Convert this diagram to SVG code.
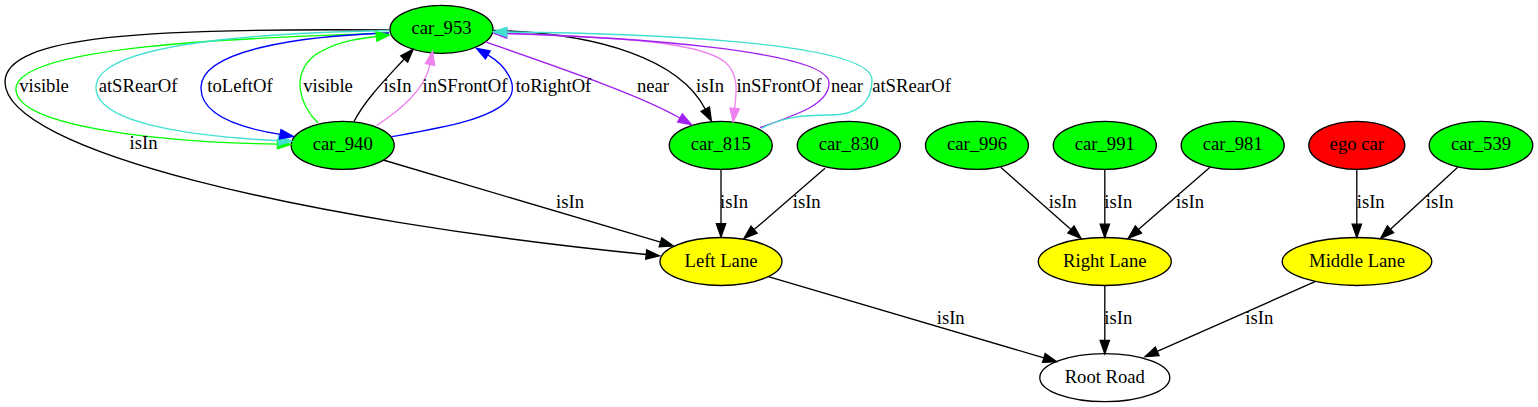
<svg xmlns="http://www.w3.org/2000/svg" width="1538" height="407" viewBox="0 0 1538 407">
<style>
.node ellipse{stroke:#000;stroke-width:1.33}
.g{fill:#00ff00}.y{fill:#ffff00}.r{fill:#ff0000}.w{fill:#ffffff}
text{font-family:"Liberation Serif","Times New Roman",serif;font-size:18.67px;fill:#000;text-anchor:middle}
.e path{fill:none;stroke-width:1.33}
.k{stroke:#000;marker-end:url(#ak)}
.gr{stroke:#00ff00;marker-end:url(#ag)}
.tq{stroke:#40e0d0;marker-end:url(#at)}
.bl{stroke:#0000ff;marker-end:url(#ab)}
.vi{stroke:#ee82ee;marker-end:url(#av)}
.pu{stroke:#a020f0;marker-end:url(#ap)}
</style>
<defs>
<marker id="ak" markerUnits="userSpaceOnUse" orient="auto" refX="0" refY="0" markerWidth="16" markerHeight="12" viewBox="-1 -6 16 12" overflow="visible"><path d="M0,-4.67L13.33,0L0,4.67Z" fill="#000" stroke="#000" stroke-width="1.33"/></marker>
<marker id="ag" markerUnits="userSpaceOnUse" orient="auto" refX="0" refY="0" markerWidth="16" markerHeight="12" viewBox="-1 -6 16 12" overflow="visible"><path d="M0,-4.67L13.33,0L0,4.67Z" fill="#00ff00" stroke="#00ff00" stroke-width="1.33"/></marker>
<marker id="at" markerUnits="userSpaceOnUse" orient="auto" refX="0" refY="0" markerWidth="16" markerHeight="12" viewBox="-1 -6 16 12" overflow="visible"><path d="M0,-4.67L13.33,0L0,4.67Z" fill="#40e0d0" stroke="#40e0d0" stroke-width="1.33"/></marker>
<marker id="ab" markerUnits="userSpaceOnUse" orient="auto" refX="0" refY="0" markerWidth="16" markerHeight="12" viewBox="-1 -6 16 12" overflow="visible"><path d="M0,-4.67L13.33,0L0,4.67Z" fill="#0000ff" stroke="#0000ff" stroke-width="1.33"/></marker>
<marker id="av" markerUnits="userSpaceOnUse" orient="auto" refX="0" refY="0" markerWidth="16" markerHeight="12" viewBox="-1 -6 16 12" overflow="visible"><path d="M0,-4.67L13.33,0L0,4.67Z" fill="#ee82ee" stroke="#ee82ee" stroke-width="1.33"/></marker>
<marker id="ap" markerUnits="userSpaceOnUse" orient="auto" refX="0" refY="0" markerWidth="16" markerHeight="12" viewBox="-1 -6 16 12" overflow="visible"><path d="M0,-4.67L13.33,0L0,4.67Z" fill="#a020f0" stroke="#a020f0" stroke-width="1.33"/></marker>
</defs>
<rect width="1538" height="407" fill="#fff"/>
<g id="nodes">
<g id="car_953" class="node"><ellipse class="g" cx="441.5" cy="29.3" rx="51.5" ry="24"/><text x="441.5" y="34.3">car_953</text></g>
<g id="car_940" class="node"><ellipse class="g" cx="342.7" cy="145.4" rx="51.5" ry="24"/><text x="342.7" y="150.4">car_940</text></g>
<g id="car_815" class="node"><ellipse class="g" cx="720.8" cy="145.4" rx="51.5" ry="24"/><text x="720.8" y="150.4">car_815</text></g>
<g id="car_830" class="node"><ellipse class="g" cx="848.8" cy="145.4" rx="51.5" ry="24"/><text x="848.8" y="150.4">car_830</text></g>
<g id="car_996" class="node"><ellipse class="g" cx="977" cy="145.4" rx="51.5" ry="24"/><text x="977" y="150.4">car_996</text></g>
<g id="car_991" class="node"><ellipse class="g" cx="1104.8" cy="145.4" rx="51.5" ry="24"/><text x="1104.8" y="150.4">car_991</text></g>
<g id="car_981" class="node"><ellipse class="g" cx="1232.7" cy="145.4" rx="51.5" ry="24"/><text x="1232.7" y="150.4">car_981</text></g>
<g id="ego_car" class="node"><ellipse class="r" cx="1356.8" cy="145.4" rx="48" ry="24"/><text x="1356.8" y="150.4">ego car</text></g>
<g id="car_539" class="node"><ellipse class="g" cx="1481" cy="145.4" rx="51.8" ry="24"/><text x="1481" y="150.4">car_539</text></g>
<g id="left_lane" class="node"><ellipse class="y" cx="721" cy="261.5" rx="61" ry="24"/><text x="721" y="266.5">Left Lane</text></g>
<g id="right_lane" class="node"><ellipse class="y" cx="1104.8" cy="261.5" rx="66.5" ry="24"/><text x="1104.8" y="266.5">Right Lane</text></g>
<g id="middle_lane" class="node"><ellipse class="y" cx="1357" cy="261.5" rx="74.8" ry="24"/><text x="1357" y="266.5">Middle Lane</text></g>
<g id="root_road" class="node"><ellipse class="w" cx="1104.8" cy="377.7" rx="65" ry="24"/><text x="1104.8" y="382.7">Root Road</text></g>
</g>
<g id="connectors" class="e">
<path class="k" d="M389,30 C150,28 5,35 5,82 C5,150 300,220 646.2,254.5"/>
<path class="gr" d="M389,33 C250,38 20,45 16,88 C13,125 150,142 277.4,144.2"/>
<path class="tq" d="M389,30.5 C250,33 97,45 96,87 C95,125 200,137 278.4,140.6"/>
<path class="bl" d="M389,33 C300,36 202,50 201,87 C200,115 240,128 280.2,134.3"/>
<path class="gr" d="M318,123 C300,105 290,75 315,55 C335,42 355,39 376.4,36.5"/>
<path class="k" d="M354,121.5 C365,100 385,80 404.2,59"/>
<path class="vi" d="M376.7,125.5 C400,110 425,90 430,64.4"/>
<path class="bl" d="M391.7,136.7 C440,128 490,120 508,100 C520,85 505,65 487.8,54.9"/>
<path class="pu" d="M485,41.7 C560,68 640,95 680,118"/>
<path class="k" d="M493.5,30.5 C600,33 680,60 705.3,109.2"/>
<path class="vi" d="M494,33 C620,37 700,42 725,62 C740,75 736,95 734.6,108.4"/>
<path class="pu" d="M760,127.7 C795,115 829,105 829,83 C829,50 620,37 506.8,33.5"/>
<path class="tq" d="M761.7,128.3 C780,118 800,115 830,115 C860,115 872,100 872,80 C872,40 620,33 506.7,32"/>
<path class="k" d="M383.3,160 L660.5,242.2"/>
<path class="k" d="M721,169.4 L721,223.7"/>
<path class="k" d="M825,168.3 L754.1,229.6"/>
<path class="k" d="M1000.7,167.3 L1071,229.5"/>
<path class="k" d="M1104.8,169.4 L1104.8,224.2"/>
<path class="k" d="M1210,167.3 L1138.4,229.5"/>
<path class="k" d="M1356.8,169.4 L1356.8,224.2"/>
<path class="k" d="M1457.7,167.3 L1390.5,229.3"/>
<path class="k" d="M768.3,276.7 L1043.9,357.9"/>
<path class="k" d="M1104.8,285.5 L1104.8,340.4"/>
<path class="k" d="M1315,281.7 L1157.2,351.3"/>
<g id="labels">
<text x="44" y="91.5">visible</text>
<text x="138" y="91.5">atSRearOf</text>
<text x="240" y="91.5">toLeftOf</text>
<text x="328" y="91.5">visible</text>
<text x="397.5" y="91.5">isIn</text>
<text x="465" y="91.5">inSFrontOf</text>
<text x="553.5" y="91.5">toRightOf</text>
<text x="653" y="91.5">near</text>
<text x="710" y="91.5">isIn</text>
<text x="779" y="91.5">inSFrontOf</text>
<text x="847" y="91.5">near</text>
<text x="911.5" y="91.5">atSRearOf</text>
<text x="143.5" y="149">isIn</text>
<text x="570" y="207.5">isIn</text>
<text x="734" y="207.5">isIn</text>
<text x="806.7" y="207.5">isIn</text>
<text x="1062.7" y="207.5">isIn</text>
<text x="1118.3" y="207.5">isIn</text>
<text x="1190" y="207.5">isIn</text>
<text x="1370.7" y="207.5">isIn</text>
<text x="1439.7" y="207.5">isIn</text>
<text x="950.7" y="323.5">isIn</text>
<text x="1118.3" y="323.5">isIn</text>
<text x="1259.3" y="323.5">isIn</text>
</g>
</g>
</svg>
